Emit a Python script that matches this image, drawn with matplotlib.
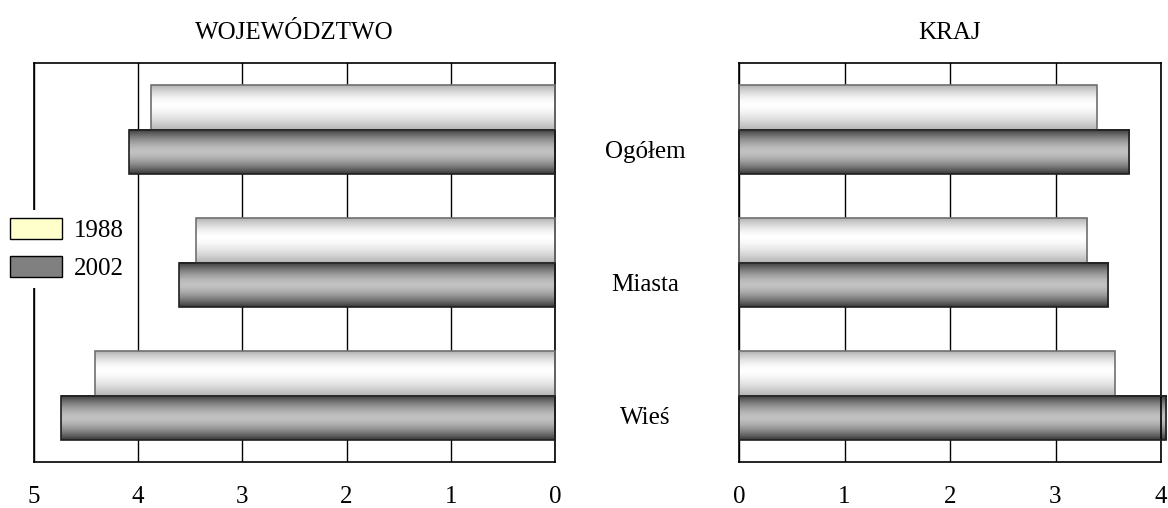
import numpy as np
import matplotlib.pyplot as plt
import matplotlib.transforms as mtransforms
from matplotlib.patches import Patch

plt.rcParams['font.family'] = ['Liberation Serif', 'DejaVu Serif']

categories = ['Ogółem', 'Miasta', 'Wieś']
years = ['1988', '2002']
woj_1988 = [3.88, 3.45, 4.41]
woj_2002 = [4.09, 3.61, 4.74]
kraj_1988 = [3.39, 3.30, 3.56]
kraj_2002 = [3.70, 3.50, 4.05]

bar_h = 0.338
y = np.arange(len(categories))
fs = 18


def profile(n, edge, center, peak=0.45):
    t = np.linspace(0, 1, n)
    d = np.where(t < peak, (peak - t) / peak, (t - peak) / (1 - peak))
    return center + (edge - center) * d ** 1.6


light = profile(80, 0.70, 1.0, 0.42)
dark = profile(80, 0.22, 0.76, 0.5)


def gradient_bars(ax, bars, prof, edgecol):
    for b in bars:
        x0, y0 = b.get_x(), b.get_y()
        w, h = b.get_width(), b.get_height()
        img = np.repeat(prof.reshape(-1, 1), 2, axis=1)
        rgb = np.dstack([img, img, img])
        im = ax.imshow(rgb, extent=[x0, x0 + w, y0 + h, y0], aspect='auto',
                       zorder=2, interpolation='bilinear')
        im.set_clip_on(False)
        b.set_facecolor('none')
        b.set_edgecolor(edgecol)
        b.set_linewidth(1.2)
        b.set_zorder(3)
        b.set_clip_on(False)


fig = plt.figure(figsize=(11.68, 5.08), dpi=100)
ax1 = fig.add_axes([34 / 1168, 46 / 508, 521 / 1168, 399 / 508])
ax2 = fig.add_axes([739 / 1168, 46 / 508, 422 / 1168, 399 / 508])

for ax, v88, v02, lim, title in [(ax1, woj_1988, woj_2002, (5, 0), 'WOJEWÓDZTWO'),
                                 (ax2, kraj_1988, kraj_2002, (0, 4), 'KRAJ')]:
    b1 = ax.barh(y - bar_h / 2, v88, height=bar_h)
    b2 = ax.barh(y + bar_h / 2, v02, height=bar_h)
    gradient_bars(ax, b1, light, '#707070')
    gradient_bars(ax, b2, dark, '#202020')
    ax.set_xlim(*lim)
    ax.set_ylim(2.5, -0.5)
    ax.set_xticks(range(0, 6 if lim[0] == 5 else 5))
    ax.set_yticks([])
    ax.grid(axis='x', color='black', linewidth=1, zorder=0)
    ax.set_axisbelow(True)
    ax.tick_params(axis='x', length=0, pad=17, labelsize=fs)
    for s in ax.spines.values():
        s.set_linewidth(1.2)
    ax.set_title(title, fontsize=fs, pad=17)

trans = mtransforms.blended_transform_factory(fig.transFigure, ax1.transData)
for i, c in enumerate(categories):
    ax1.text(645 / 1168, y[i] + bar_h / 2, c, transform=trans, ha='center',
             va='center', fontsize=fs, clip_on=False)

handles = [Patch(facecolor='#ffffcc', edgecolor='black', label=years[0]),
           Patch(facecolor='#808080', edgecolor='black', label=years[1])]
leg = fig.legend(handles=handles, loc='center left', bbox_to_anchor=(0.002, 1 - 249 / 508),
                 fontsize=fs, frameon=True, framealpha=1, edgecolor='none', fancybox=False,
                 handlelength=2.1, handleheight=0.95, labelspacing=0.55, handletextpad=0.45,
                 borderpad=0.3, borderaxespad=0.0)

fig.savefig('out.png', dpi=100)
